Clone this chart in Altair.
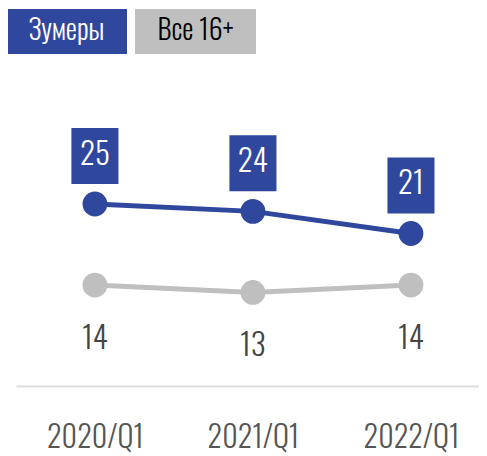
import altair as alt
import pandas as pd

periods = ["2020/Q1", "2021/Q1", "2022/Q1"]
zoomers = [25, 24, 21]
all16 = [14, 13, 14]
series_names = ["Зумеры", "Все 16+"]

BLUE = "#30479E"
GRAY = "#BFBFBF"
FONT = "Oswald, Roboto Condensed, Noto Sans Condensed, Liberation Sans Narrow, DejaVu Sans Condensed, sans-serif"
W = 300

rows = []
for p, v in zip(periods, zoomers):
    rows.append({"period": p, "series": series_names[0], "value": v})
for p, v in zip(periods, all16):
    rows.append({"period": p, "series": series_names[1], "value": v})
df = pd.DataFrame(rows)
leg = pd.DataFrame({"name": series_names})

color = alt.Color("series:N", scale=alt.Scale(domain=series_names, range=[BLUE, GRAY]), legend=None)

base = alt.Chart(df).encode(
    x=alt.X("period:O", sort=periods,
            scale=alt.Scale(type="point", padding=0.465, align=0.537),
            axis=alt.Axis(title=None, labelAngle=0, ticks=False, grid=False,
                          domainColor="#DDDDDD", domainWidth=2,
                          labelFont=FONT, labelFontSize=30, labelFontWeight=W,
                          labelColor="#555555", labelPadding=37)),
    y=alt.Y("value:Q", scale=alt.Scale(domain=[0.3, 51.6], nice=False, zero=False), axis=None),
)

line = base.mark_line(strokeWidth=5).encode(color=color)
pts = base.mark_circle(size=616, opacity=1).encode(color=color)

box_path = "M-0.84,-1L0.84,-1L0.84,1L-0.84,1Z"
blue = base.transform_filter(alt.datum.series == series_names[0])
boxes = blue.mark_point(shape=box_path, size=3136, filled=True, opacity=1,
                        color=BLUE, strokeWidth=0, yOffset=-48)
btext = blue.mark_text(font=FONT, fontSize=31, fontWeight=W, color="white", baseline="middle",
                       yOffset=-48).encode(text="value:Q")
gtext = base.transform_filter(alt.datum.series == series_names[1]).mark_text(
    font=FONT, fontSize=31, fontWeight=W, color="#444444", baseline="middle", yOffset=55
).encode(text="value:Q")

main = alt.layer(line, pts, boxes, btext, gtext)

lbase = alt.Chart(leg).encode(
    x=alt.X("name:N", sort=series_names,
            scale=alt.Scale(type="band", range=[-10, 240], paddingInner=0.062, paddingOuter=0),
            axis=None)
)
lrect = lbase.mark_rect().encode(
    y=alt.value(1), y2=alt.value(46),
    color=alt.Color("name:N", scale=alt.Scale(domain=series_names, range=[BLUE, GRAY]), legend=None),
)
ltext = lbase.mark_text(font=FONT, fontSize=28, fontWeight=W, baseline="middle").encode(
    y=alt.value(24), text="name:N",
    fill=alt.condition(alt.datum.name == series_names[0], alt.value("white"), alt.value("black")),
)
legend = alt.layer(lrect, ltext)

chart = alt.layer(main, legend).resolve_scale(x="independent", color="independent").properties(
    width=463, height=378,
    padding={"left": 8, "top": 0, "right": 0, "bottom": 70},
    autosize=alt.AutoSizeParams(type="none"),
    background="white",
).configure_view(stroke=None)

chart.save("out.html", embed_options={"renderer": "svg", "actions": False})
